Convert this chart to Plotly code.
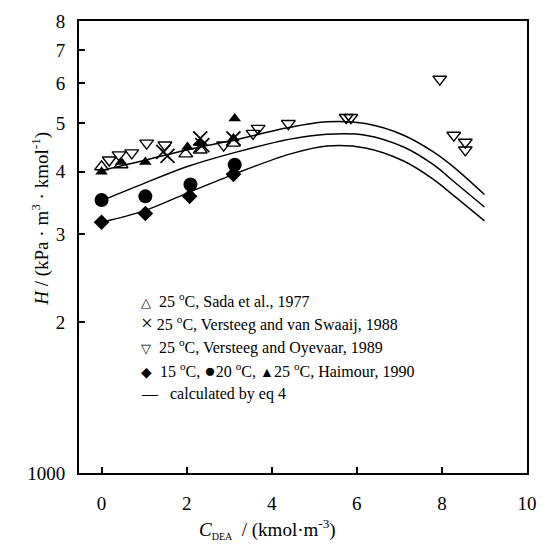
import plotly.graph_objects as go

# ---- data (H in kPa·m3·kmol-1, C in kmol·m-3) ----
sada_x = [0.0, 0.46, 1.98, 2.32, 3.1]
sada_y = [4090, 4130, 4340, 4420, 4560]

swaaij_x = [1.45, 1.55, 2.32, 2.37, 3.1]
swaaij_y = [4380, 4300, 4660, 4520, 4660]

oyevaar_x = [0.18, 0.41, 0.71, 1.06, 1.49, 2.87, 3.56, 3.68, 4.39, 5.75, 5.86, 7.95, 8.28, 8.55, 8.55]
oyevaar_y = [4220, 4320, 4360, 4560, 4520, 4520, 4770, 4880, 4990, 5130, 5130, 6120, 4730, 4580, 4420]

haim15_x = [0.0, 1.03, 2.07, 3.1]
haim15_y = [3170, 3300, 3570, 3950]

haim20_x = [0.0, 1.03, 2.09, 3.13]
haim20_y = [3510, 3570, 3770, 4130]

haim25_x = [0.0, 0.46, 1.03, 2.02, 2.32, 3.1, 3.13]
haim25_y = [4000, 4180, 4180, 4480, 4560, 4660, 5110]

calc_x = [0, 1, 2, 3.1, 4.4, 5.3, 6.2, 7.1, 7.8, 8.3, 9.0]
calc25_y = [4020, 4210, 4420, 4620, 4900, 5030, 4990, 4730, 4380, 4070, 3600]
calc20_y = [3500, 3790, 4090, 4360, 4640, 4750, 4730, 4480, 4130, 3810, 3400]
calc15_y = [3170, 3340, 3620, 3950, 4330, 4500, 4460, 4200, 3860, 3570, 3190]

curve_labels = ["25 °C", "20 °C", "15 °C"]

ytick_vals = [1000, 2000, 3000, 4000, 5000, 6000, 7000, 8000]
ytick_text = ["1000", "2", "3", "4", "5", "6", "7", "8"]
xtick_vals = [0, 2, 4, 6, 8, 10]

def sym(ch, size):
    return "<span style='font-size:%dpx'>%s</span>" % (size, ch)

legend_rows = [
    sym("△", 13) + "  25 <sup>o</sup>C, Sada et al., 1977",
    sym("×", 21) + " 25 <sup>o</sup>C, Versteeg and van Swaaij, 1988",
    sym("▽", 13) + "  25 <sup>o</sup>C, Versteeg and Oyevaar, 1989",
    sym("◆", 14) + "  15 <sup>o</sup>C, " + sym("●", 19) + "20 <sup>o</sup>C, " + sym("▲", 14) + "25 <sup>o</sup>C, Haimour, 1990",
    "—   calculated by eq 4",
]

FONT = "Liberation Serif, Times New Roman, serif"
fig = go.Figure()

for cy in [calc25_y, calc20_y, calc15_y]:
    fig.add_trace(go.Scatter(x=calc_x, y=cy, mode="lines",
                             line=dict(color="black", width=1.5, shape="spline", smoothing=0.9)))

def mk(x, y, sym_name, size, lw=1.4):
    fig.add_trace(go.Scatter(x=x, y=y, mode="markers",
                             marker=dict(symbol=sym_name, size=size, color="black", line=dict(color="black", width=lw))))

mk(sada_x, sada_y, "triangle-up-open", 12)
mk(swaaij_x, swaaij_y, "x-thin-open", 14, 1.7)
mk(oyevaar_x, oyevaar_y, "triangle-down-open", 12)
mk(haim15_x, haim15_y, "diamond", 12, 0)
mk(haim20_x, haim20_y, "circle", 14, 0)
mk(haim25_x, haim25_y, "triangle-up", 11, 0)

# curve end labels
for lab, cy in zip(curve_labels, [calc25_y, calc20_y, calc15_y]):
    fig.add_annotation(x=calc_x[-1], y=cy[-1], xref="x", yref="y", text=lab, showarrow=False,
                       xanchor="left", yanchor="middle", xshift=4, font=dict(family=FONT, size=13, color="black"))

# geometry helpers: plot area spans px 79..537 horizontally, 14..473 vertically
def px2x(px):
    return (px - 79) / 458.0

def py2y(py):
    return (473 - py) / 459.0

# legend rows
for i, row in enumerate(legend_rows):
    fig.add_annotation(x=px2x(140), y=py2y(297 + i * 24), xref="paper", yref="paper", text=row, showarrow=False,
                       xanchor="left", yanchor="middle", font=dict(family=FONT, size=16, color="black"))

fig.update_layout(
    width=548, height=548, margin=dict(l=79, r=11, t=14, b=75),
    paper_bgcolor="white", plot_bgcolor="white", showlegend=False,
    font=dict(family=FONT, size=19, color="black"),
)
fig.update_xaxes(range=[-0.53, 10], tickvals=xtick_vals, ticks="inside", ticklen=6, tickwidth=1.5,
                 tickcolor="black", showline=True, linecolor="black", linewidth=2, mirror=True,
                 showgrid=False, zeroline=False, ticklabelstandoff=12)
fig.update_yaxes(type="log", range=[3, 3.903], tickvals=ytick_vals, ticktext=ytick_text, ticks="inside",
                 ticklen=6, tickwidth=1.5, tickcolor="black", showline=True, linecolor="black", linewidth=2,
                 mirror=True, showgrid=False, zeroline=False, ticklabelstandoff=8)

# axis titles
fig.add_annotation(x=px2x(40), y=py2y(215), xref="paper", yref="paper", xanchor="center", yanchor="middle",
                   text="<i>H</i> / (kPa · m<sup>3</sup> · kmol<sup>-1</sup>)",
                   showarrow=False, textangle=-90, font=dict(family=FONT, size=19, color="black"))
fig.add_annotation(x=px2x(272), y=py2y(530), xref="paper", yref="paper", xanchor="center", yanchor="middle",
                   text="<i>C</i><sub><span style='font-size:10px'>DEA</span></sub>  / (kmol·m<sup>-3</sup>)",
                   showarrow=False, font=dict(family=FONT, size=19, color="black"))

fig.write_html("out.html")
